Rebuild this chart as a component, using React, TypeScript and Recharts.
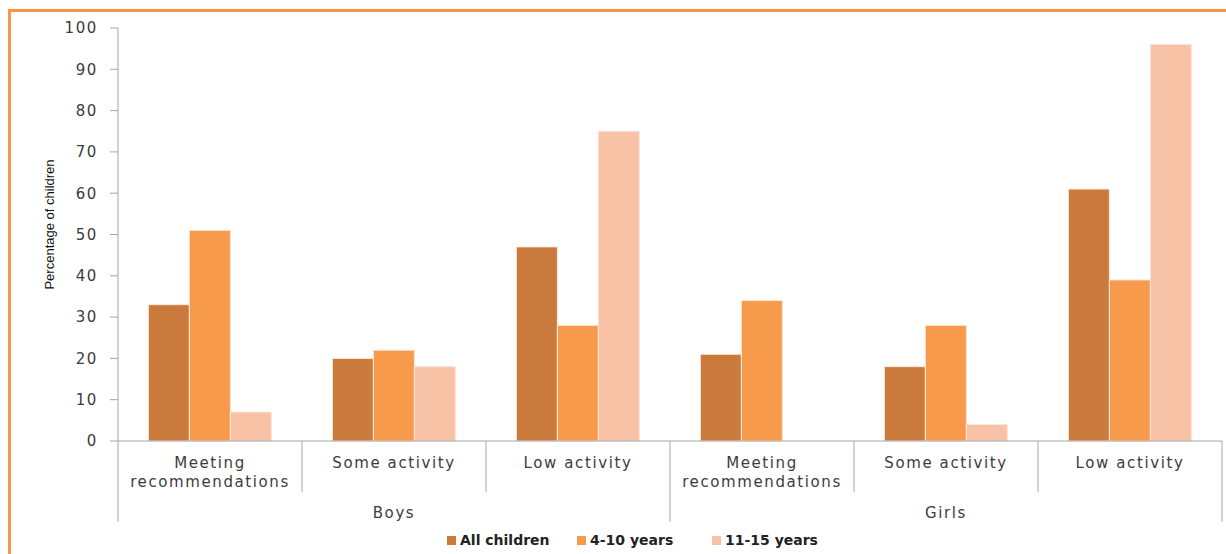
import React from 'react';
import { BarChart, Bar, XAxis, YAxis, Legend, Label } from 'recharts';

const categories = [
  'Meeting\nrecommendations',
  'Some activity',
  'Low activity',
  'Meeting\nrecommendations',
  'Some activity',
  'Low activity',
];
const groups = ['Boys', 'Boys', 'Boys', 'Girls', 'Girls', 'Girls'];
const allChildren = [33, 20, 47, 21, 18, 61];
const age4to10 = [51, 22, 28, 34, 28, 39];
const age11to15 = [7, 18, 75, 0, 4, 96];
const yTicks = [0, 10, 20, 30, 40, 50, 60, 70, 80, 90, 100];

const series = [
  { key: 'all', name: 'All children', color: '#C97A3C', width: 130 },
  { key: 'young', name: '4-10 years', color: '#F79A4B', width: 135 },
  { key: 'old', name: '11-15 years', color: '#F8C2A6', width: 120 },
];

const chartData = categories.map((c, i) => ({
  category: c,
  group: groups[i],
  all: allChildren[i],
  young: age4to10[i],
  old: age11to15[i],
}));

const TEXT = '#3c3c3c';
const GRID = '#a6a6a6';
const FONT = '"DejaVu Sans", Verdana, sans-serif';

function CategoryTick(props: any) {
  const { x, y, payload, index } = props;
  const half = payload.offset || 0;
  const lines = String(payload.value).split('\n');
  const leftLen = index % 3 === 0 ? 81 : 51;
  return (
    <g>
      <line x1={x - half} x2={x - half} y1={y} y2={y + leftLen} stroke={GRID} />
      {index === categories.length - 1 && (
        <line x1={x + half} x2={x + half} y1={y} y2={y + 81} stroke={GRID} />
      )}
      {lines.map((l, i) => (
        <text
          key={i}
          x={x}
          y={y + 27 + i * 19}
          textAnchor="middle"
          fill={TEXT}
          fontSize={15}
          letterSpacing={1.6}
          fontFamily={FONT}
        >
          {l}
        </text>
      ))}
    </g>
  );
}

function GroupTick(props: any) {
  const { x, y, payload } = props;
  return (
    <text x={x} y={y + 26} textAnchor="middle" fill={TEXT} fontSize={15} letterSpacing={1.6} fontFamily={FONT}>
      {payload.value}
    </text>
  );
}

function YTitle(props: any) {
  const { viewBox } = props;
  const cx = viewBox.x + 11;
  const cy = viewBox.y + viewBox.height / 2 - 10;
  return (
    <text
      x={cx}
      y={cy}
      transform={`rotate(-90, ${cx}, ${cy})`}
      textAnchor="middle"
      dominantBaseline="central"
      fill="#111"
      fontSize={13}
      fontFamily='"Liberation Sans Narrow", "Liberation Sans", sans-serif'
    >
      Percentage of children
    </text>
  );
}

function LegendContent() {
  return (
    <div
      style={{
        display: 'flex',
        justifyContent: 'flex-start',
        paddingLeft: 447,
        paddingTop: 2,
        lineHeight: '32px',
        fontFamily: FONT,
        fontWeight: 'bold',
        fontSize: 14,
        color: '#222',
      }}
    >
      {series.map((s) => (
        <div key={s.key} style={{ display: 'flex', alignItems: 'center', width: s.width }}>
          <span style={{ width: 9, height: 9, background: s.color, marginRight: 4 }} />
          <span>{s.name}</span>
        </div>
      ))}
    </div>
  );
}

export default function App() {
  return (
    <div
      style={{
        position: 'absolute',
        left: 0,
        top: 0,
        width: 1226,
        height: 554,
        overflow: 'hidden',
        background: '#fff',
      }}
    >
      <div
        style={{
          position: 'absolute',
          left: 8,
          top: 9,
          width: 1240,
          height: 570,
          borderTop: '3px solid #F79646',
          borderLeft: '3px solid #F79646',
        }}
      />
      <div style={{ position: 'absolute', left: 0, top: 0 }}>
        <BarChart
          width={1226}
          height={554}
          data={chartData}
          margin={{ top: 28, right: 4, left: 38, bottom: 0 }}
          barCategoryGap="16.5%"
          barGap={0}
        >
          <YAxis
            domain={[0, 100]}
            ticks={yTicks}
            interval={0}
            width={80}
            tickSize={8}
            tickMargin={12}
            axisLine={{ stroke: GRID }}
            tickLine={{ stroke: GRID }}
            tick={{ fill: TEXT, fontSize: 15, fontFamily: FONT, letterSpacing: 1.6 }}
          >
            <Label content={<YTitle />} />
          </YAxis>
          <XAxis
            dataKey="category"
            interval={0}
            height={51}
            tickSize={0}
            tickMargin={0}
            tickLine={false}
            axisLine={{ stroke: GRID }}
            tick={<CategoryTick />}
          />
          <XAxis
            xAxisId="group"
            dataKey="group"
            allowDuplicatedCategory={false}
            interval={0}
            height={30}
            tickSize={0}
            tickMargin={0}
            tickLine={false}
            axisLine={false}
            tick={<GroupTick />}
          />
          <Legend
            verticalAlign="bottom"
            height={32}
            wrapperStyle={{ left: 0, width: 1226 }}
            content={<LegendContent />}
          />
          {series.map((s) => (
            <Bar
              key={s.key}
              dataKey={s.key}
              name={s.name}
              fill={s.color}
              stroke="#fbe6d8"
              strokeWidth={1}
              isAnimationActive={false}
            />
          ))}
        </BarChart>
      </div>
    </div>
  );
}
